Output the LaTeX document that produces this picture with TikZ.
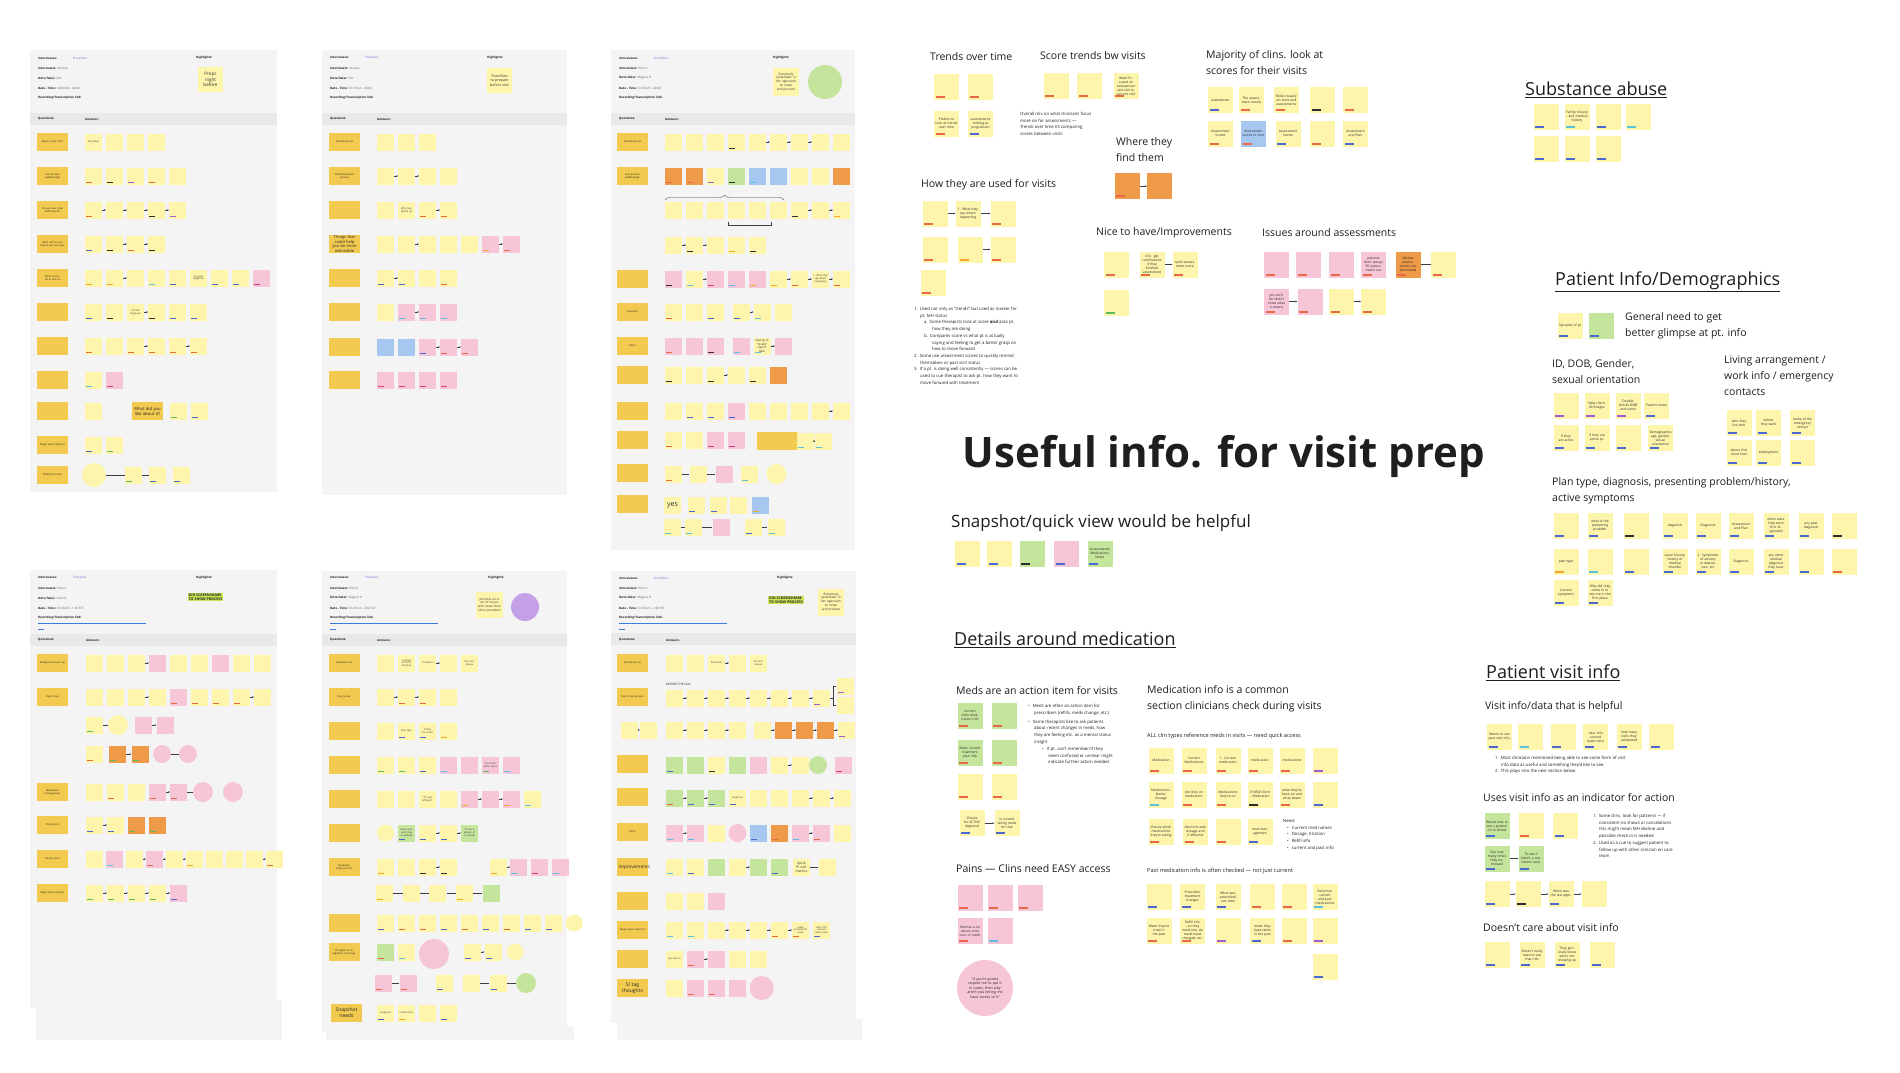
\documentclass[tikz,border=0pt]{standalone}
\usepackage{fontspec}
\setmainfont{Open Sans}
\usetikzlibrary{arrows.meta,decorations.pathreplacing}
\definecolor{panelbg}{HTML}{F4F4F4}
\definecolor{band}{HTML}{E9E9E9}
\definecolor{qg}{HTML}{F2CA50}
\definecolor{ly}{HTML}{FEF5AC}
\definecolor{pk}{HTML}{F7C5D8}
\definecolor{og}{HTML}{EE9A48}
\definecolor{gr}{HTML}{C6E59C}
\definecolor{bl}{HTML}{A6C8F0}
\definecolor{pu}{HTML}{C4A0E6}
\definecolor{lime}{HTML}{C8E655}
\definecolor{rolec}{HTML}{7B5CD6}
\definecolor{linkc}{HTML}{3D7BE0}
\definecolor{tr}{HTML}{E8684A}
\definecolor{tb}{HTML}{4B68D2}
\definecolor{tp}{HTML}{A25BD0}
\definecolor{tk}{HTML}{2E2E2E}
\definecolor{tg}{HTML}{5DB862}
\definecolor{tc}{HTML}{5CBFDF}
\definecolor{to}{HTML}{F4A62A}
\definecolor{tm}{HTML}{D93A7E}
\definecolor{txt}{HTML}{1E1E1E}
\tikzset{
  note/.style={fill=#1, minimum width=17pt, minimum height=17pt, inner sep=0.3pt, text width=15.5pt, align=center, font=\fontsize{2.4}{2.9}\selectfont, text=black!80},
  notetag/.style={path picture={\path[fill=#1] ([shift={(1pt,1.2pt)}]path picture bounding box.south west) rectangle ++(6pt,1.3pt);}},
  bnote/.style={fill=#1, minimum width=25pt, minimum height=26pt, inner sep=0.4pt, text width=22pt, align=center, font=\fontsize{3.3}{4}\selectfont, text=black!85},
  bnotetag/.style={path picture={\path[fill=#1] ([shift={(1.5pt,2pt)}]path picture bounding box.south west) rectangle ++(9pt,2pt);}},
  qbox/.style={fill=qg, minimum width=31pt, minimum height=18pt, text width=28pt, align=center, inner sep=0.3pt, font=\fontsize{2.5}{3}\selectfont, text=black!85},
  circ/.style={circle, fill=#1, inner sep=0pt},
  hdr/.style={anchor=west, inner sep=0pt, font=\fontsize{3}{3.6}\selectfont, text=txt},
  qh/.style={anchor=west, inner sep=0pt, font=\fontsize{3}{3.6}\selectfont\bfseries, text=txt},
  arr/.style={-{Stealth[length=1.6pt,width=1.6pt]}, line width=0.35pt, draw=black!75},
  ln/.style={line width=0.35pt, draw=black!75},
  sect/.style={anchor=west, inner sep=0pt, font=\fontsize{18}{22}\selectfont, text=txt},
  sub/.style={anchor=west, inner sep=0pt, font=\fontsize{10.5}{16}\selectfont, text=txt, align=left},
  small/.style={anchor=north west, inner sep=0pt, align=left, font=\fontsize{4.3}{6.7}\selectfont, text=txt},
  shot/.style={fill=lime, inner sep=0.8pt, align=left, font=\fontsize{3.6}{4.4}\selectfont\bfseries, text=black!85},
}
\newcommand\NRow[6]{\foreach \ncol/\ntag/\ntxt [count=\nidx] in {#6}{\node[#2=\ncol,#2tag=\ntag] (#1-\nidx) at ({#3+(\nidx-1)*(#5)},#4) {\ntxt};}}
\newcommand\Arrs[2]{\foreach \aa/\bb in {#2}{\draw[arr] (#1-\aa) -- (#1-\bb);}}
\newcommand\Lns[2]{\foreach \aa/\bb in {#2}{\draw[ln] (#1-\aa) -- (#1-\bb);}}
\newcommand\N[6]{\node[note=#4,notetag=#5] (#1) at (#2,#3) {#6};}
\newcommand\B[6]{\node[bnote=#4,bnotetag=#5] (#1) at (#2,#3) {#6};}
\newcommand\Q[4]{\node[qbox] (#1) at (#2,#3) {#4};}
\newcommand\Panel[5]{\fill[panelbg] (#1,#2) rectangle (#3,#4); \fill[band] (#1,#5) rectangle (#3,#5+12);}
\newcommand\PHead[6]{%
  \node[hdr] at (#1,#2) {\textbf{Interviewee:}\hspace{16pt}{\color{rolec}#3}};
  \node[hdr] at (#1,#2+10) {\textbf{Interviewer:} {\color{black!60}#4}};
  \node[hdr] at (#1,#2+20) {\textbf{Note-Taker:} {\color{black!60}#5}};
  \node[hdr] at (#1,#2+30) {\textbf{Date - Time:} {\color{black!60}#6}};
  \node[hdr] at (#1,#2+40) {\textbf{Recording/Transcription link:}};}
\begin{document}
\begin{tikzpicture}[x=1pt,y=-1pt]
\useasboundingbox (0,0) rectangle (1900,1072);
\fill[white] (0,0) rectangle (1900,1072);

% ================= PANEL 1 =================
\Panel{30}{50}{277}{492}{113}
\PHead{38}{58}{Prescriber}{Andrea}{Ella}{00/00/00 - 00:00}
\node[qh] at (196,58) {Highlights:};
\node[note=ly, minimum width=25pt, minimum height=25pt, text width=22pt, font=\fontsize{4.6}{5.6}\selectfont] (h1) at (210.5,79.5) {Preps night before};
\node[qh] at (38,119) {Questions:}; \node[qh] at (85,119) {Answers:};
\Q{qa1}{52.5}{142}{What is your role?}
\Q{qa2}{52.5}{176}{Visit process walkthrough}
\Q{qa3}{52.5}{210}{Do you ever prep beforehand?}
\Q{qa4}{52.5}{244}{What info do you look at per visit type}
\Q{qa5}{52.5}{278}{What is useful to look at}
\Q{qa6}{52.5}{312}{}
\Q{qa7}{52.5}{346}{}
\Q{qa8}{52.5}{380}{}
\Q{qa9}{52.5}{411}{}
\Q{qa10}{52.5}{445}{Magic wand options?}
\Q{qa11}{52.5}{475}{Additional notes}
\NRow{pa1}{note}{93.5}{142}{21}{ly/none/Prescriber,ly/none/{},ly/none/{},ly/none/{}}
\NRow{pa2}{note}{93.5}{176}{21}{ly/tr/{},ly/tk/{},ly/tp/{},ly/tr/{},ly/none/{}}
\NRow{pa3}{note}{93.5}{210}{21}{ly/tr/{},ly/none/{},ly/none/{},ly/tk/{},ly/tp/{}} \Arrs{pa3}{1/2,2/3,3/4,4/5}
\NRow{pa4}{note}{93.5}{244}{21}{ly/tb/{},ly/tk/{},ly/tr/{},ly/tk/{}} \Arrs{pa4}{2/3,3/4}
\NRow{pa5}{note}{93.5}{278}{21}{ly/to/{},ly/to/{},ly/none/{},ly/tc/{},ly/tb/{},ly/none/{any past diagnosis},ly/tb/{},ly/tb/{},pk/tm/{}} \Arrs{pa5}{2/3}
\NRow{pa6}{note}{93.5}{312}{21}{ly/tb/{},ly/tk/{},ly/none/{ACTIVE diagnosis},ly/tk/{},ly/tb/{},ly/tb/{}} \Arrs{pa6}{3/4}
\NRow{pa7}{note}{93.5}{346}{21}{ly/tr/{},ly/none/{},ly/tr/{},ly/tr/{},ly/tr/{},ly/tr/{}} \Arrs{pa7}{3/4,5/6}
\NRow{pa8}{note}{93.5}{380}{21}{ly/tc/{},pk/tm/{}}
\N{pa9-1}{93.5}{411}{ly}{none}{}
\node[qbox, text width=30pt, font=\fontsize{4.2}{5}\selectfont] (pa9-2) at (147.5,411) {What did you like about it?};
\N{pa9-3}{178.5}{411}{ly}{tg}{}
\N{pa9-4}{199}{411}{ly}{tb}{}
\NRow{pa10}{note}{93.5}{445}{21}{ly/tb/{},ly/tg/{}}
\node[circ=ly, minimum size=24pt] (pa11-0) at (94,475) {};
\NRow{pa11}{note}{133.5}{475}{24}{ly/tg/{},ly/tb/{},ly/tb/{}}
\Lns{pa11}{0/1,1/2}

% ================= PANEL 2 =================
\Panel{322}{50}{567}{495}{113}
\PHead{330}{58}{Therapist}{Andrea}{Ella}{01/19/23 - 00:00}
\node[qh] at (487,58) {Highlights:};
\node[note=ly, minimum width=25pt, minimum height=25pt, text width=22pt, font=\fontsize{3.6}{4.4}\selectfont] (h2) at (499.5,80.5) {Tries/likes to prepare before visit};
\node[qh] at (330,119) {Questions:}; \node[qh] at (377,119) {Answers:};
\Q{qb1}{344.5}{142}{Intro/warm up}
\Q{qb2}{344.5}{176}{Visit/Preparation process}
\Q{qb3}{344.5}{210}{}
\node[qbox, font=\fontsize{4}{4.8}\selectfont] (qb4) at (344.5,244) {Things that could help you be more actionable};
\Q{qb5}{344.5}{278}{}
\Q{qb6}{344.5}{312}{}
\Q{qb7}{344.5}{347}{}
\Q{qb8}{344.5}{380}{}
\NRow{pb1}{note}{385.5}{142}{21}{ly/none/{},ly/none/{},ly/none/{}}
\NRow{pb2}{note}{385.5}{176}{21}{ly/none/{},ly/none/{},ly/none/{},ly/none/{}} \Arrs{pb2}{1/2,2/3}
\NRow{pb3}{note}{385.5}{210}{21}{ly/none/{},ly/none/{Why they signed up},ly/tr/{},ly/tr/{}} \Arrs{pb3}{3/4}
\NRow{pb4}{note}{385.5}{244}{21}{ly/none/{},ly/none/{},ly/none/{},ly/none/{},ly/none/{},pk/to/{},pk/tr/{}} \Arrs{pb4}{2/3,6/7}
\NRow{pb5}{note}{385.5}{278}{21}{ly/tb/{},ly/tb/{},ly/none/{},ly/tr/{}} \Arrs{pb5}{1/2}
\NRow{pb6}{note}{385.5}{312}{21}{ly/none/{},pk/tc/{},pk/tc/{},pk/tc/{}} \Arrs{pb6}{2/3}
\NRow{pb7}{note}{385.5}{347}{21}{bl/none/{},bl/none/{},pk/tb/{},pk/tr/{},pk/tr/{}} \Arrs{pb7}{3/4,4/5}
\NRow{pb8}{note}{385.5}{380}{21}{pk/tm/{},pk/tm/{},pk/tm/{},pk/tm/{}}

% ================= PANEL 3 =================
\Panel{611}{50}{855}{550}{113}
\PHead{619}{58}{Prescriber}{Eliza V}{Wagner H}{01/20/23 - 00:00}
\node[qh] at (773,58) {Highlights:};
\node[note=ly, minimum width=26pt, minimum height=28pt, text width=23pt, font=\fontsize{3.2}{3.9}\selectfont] (h3) at (786,82) {Extremely systematic in her approach to notes and process};
\node[circ=gr, minimum size=34pt] (h3c) at (825,82) {};
\node[qh] at (619,119) {Questions:}; \node[qh] at (665,119) {Answers:};
\Q{qc1}{632.5}{142}{Intro/warm up}
\Q{qc2}{632.5}{176}{Visit process walkthrough}
\Q{qc3}{632.5}{279}{}
\Q{qc4}{632.5}{312}{Snapshot}
\Q{qc5}{632.5}{346}{Pains}
\Q{qc6}{632.5}{375}{}
\Q{qc7}{632.5}{411}{}
\Q{qc8}{632.5}{440}{}
\Q{qc9}{632.5}{473}{}
\Q{qc10}{632.5}{504}{}
\NRow{pc1}{note}{673.5}{142}{21}{ly/none/{},ly/none/{},ly/none/{},ly/tk/{},ly/none/{},ly/none/{},ly/none/{},ly/none/{},ly/none/{}} \Arrs{pc1}{5/6,6/7,7/8}
\NRow{pc2}{note}{673.5}{176}{21}{og/tr/{},og/tr/{},ly/tp/{},gr/tk/{},bl/tc/{},bl/none/{},ly/none/{},ly/none/{},og/none/{}}
\NRow{pc3}{note}{673.5}{210}{21}{ly/none/{},ly/none/{},ly/none/{},ly/none/{},ly/none/{},ly/none/{},ly/tk/{},ly/none/{},ly/to/{}} \Arrs{pc3}{7/8,8/9}
\draw[ln, decorate, decoration={brace, amplitude=5pt}] (665,200) -- (784,200);
\draw[ln] (728,222) -- (728,225) -- (771,225) -- (771,222);
\NRow{pc4}{note}{673.5}{245}{21}{ly/none/{},ly/tk/{},ly/none/{},ly/to/{},ly/tk/{}} \Arrs{pc4}{1/2,2/3}
\NRow{pc5}{note}{673.5}{279}{21}{pk/tk/{},ly/tc/{},pk/tm/{},pk/tc/{},pk/to/{},ly/to/{},ly/tr/{},ly/none/{1. What they say what's happening},ly/tr/{}} \Arrs{pc5}{2/3,6/7,7/8,8/9}
\N{pc6-1}{673.5}{312}{ly}{tr}{} \N{pc6-2}{694.5}{312}{ly}{none}{} \N{pc6-3}{715}{312}{ly}{tb}{}
\N{pc6-4}{741}{312}{ly}{tb}{} \N{pc6-5}{762}{312}{ly}{tc}{} \N{pc6-6}{783.5}{312}{ly}{none}{}
\Arrs{pc6}{4/5}
\N{pc7-1}{673.5}{346}{pk}{tr}{} \N{pc7-2}{694.5}{346}{pk}{none}{} \N{pc7-3}{715}{346}{pk}{tk}{}
\N{pc7-4}{741}{346}{pk}{tc}{}
\node[note=ly, notetag=tc, font=\fontsize{3}{3.6}\selectfont] (pc7-5) at (762,346) {Having to “locate” report data};
\N{pc7-6}{783.5}{346}{pk}{none}{}
\Arrs{pc7}{5/6}
\NRow{pc8}{note}{673.5}{375}{21}{ly/tk/{},ly/none/{},ly/tk/{},ly/none/{},ly/tk/{},og/none/{}} \Arrs{pc8}{3/4}
\NRow{pc9}{note}{673.5}{411}{21}{ly/none/{},ly/tb/{},ly/tb/{},pk/tb/{},ly/none/{},ly/none/{},ly/none/{},ly/none/{},ly/none/{}} \Arrs{pc9}{8/9}
\NRow{pc10}{note}{673.5}{440}{21}{ly/tr/{},ly/none/{},pk/tm/{},pk/tm/{}}
\node[qbox, minimum width=41pt, text width=38pt] (pc10-5) at (777.5,441) {};
\N{pc10-6}{805}{441}{ly}{tc}{} \N{pc10-7}{823.5}{441}{ly}{tc}{}
\Arrs{pc10}{6/7}
\N{pc11-1}{673.5}{474}{ly}{tr}{} \N{pc11-2}{698}{474}{ly}{none}{} \N{pc11-3}{724}{474}{pk}{none}{}
\N{pc11-4}{749.5}{474}{ly}{tc}{}
\node[circ=ly, minimum size=20pt] (pc11-5) at (776.5,474) {};
\Lns{pc11}{1/2,2/3}
\node[note=ly, font=\fontsize{7}{8}\selectfont] (pc12-1) at (672.5,505) {yes};
\N{pc12-2}{696.5}{505}{ly}{tb}{} \N{pc12-3}{718}{505}{ly}{tb}{} \N{pc12-4}{738.5}{505}{ly}{none}{}
\N{pc12-5}{760}{505}{bl}{to}{}
\N{pc13-1}{672.5}{527}{ly}{tc}{} \N{pc13-2}{693.5}{527}{ly}{tc}{} \N{pc13-3}{721}{527}{pk}{none}{}
\N{pc13-4}{753}{527}{ly}{tb}{} \N{pc13-5}{776}{527}{ly}{tc}{}
\Lns{pc13}{1/2,2/3,4/5}

% ================= PANEL 4 =================
\Panel{30}{570}{277}{1008}{634}
\fill[panelbg] (36,1000) rectangle (282,1040);
\PHead{38}{578}{Therapist}{Eliza V}{Aldo M}{01/20/23 - 1:30 EST}
\fill[linkc] (38,622.6) rectangle (146,623.4); \fill[linkc] (38,628.6) rectangle (44,629.4);
\node[qh] at (196,578) {Highlights:};
\node[shot] (s4) at (205.5,597) {DID SCREENSHARE\\TO SHOW PROCESS};
\node[qh] at (38,640) {Questions:}; \node[qh] at (86,640) {Answers:};
\Q{qd1}{52.5}{663}{Background/warm up}
\Q{qd2}{52.5}{697}{Day to day}
\Q{qd3}{52.5}{792}{Medication management}
\Q{qd4}{52.5}{825}{Prescribers}
\Q{qd5}{52.5}{859}{Taking notes}
\Q{qd6}{52.5}{893}{Magic wand options}
\NRow{pd1}{note}{94.5}{663}{21}{ly/none/{},ly/none/{},ly/none/{},pk/none/{},ly/none/{},ly/none/{},pk/none/{},ly/none/{},ly/none/{}} \Arrs{pd1}{3/4}
\NRow{pd2}{note}{94.5}{697}{21}{ly/none/{},ly/none/{},ly/none/{},ly/none/{},pk/tr/{},ly/tr/{},ly/tr/{},ly/tr/{},ly/none/{}} \Arrs{pd2}{3/4,8/9}
\N{pd3-1}{94.5}{725}{ly}{tg}{}
\node[circ=ly, minimum size=20pt] (pd3-2) at (118,725) {};
\N{pd3-3}{143}{725}{pk}{none}{} \N{pd3-4}{165}{725}{pk}{none}{}
\Lns{pd3}{1/2} \Arrs{pd3}{3/4}
\N{pd4-1}{94.5}{754}{ly}{tr}{} \N{pd4-2}{117}{754}{og}{tg}{} \N{pd4-3}{140}{754}{og}{tg}{}
\node[circ=pk, minimum size=18pt] (pd4-4) at (162,754) {};
\node[circ=pk, minimum size=18pt] (pd4-5) at (188,754) {};
\Arrs{pd4}{2/3} \Lns{pd4}{4/5}
\NRow{pd5}{note}{94.5}{792}{21}{ly/none/{},ly/tr/{},ly/none/{},pk/tr/{},pk/tr/{}}
\node[circ=pk, minimum size=20pt] (pd5-6) at (203,792) {};
\node[circ=pk, minimum size=20pt] (pd5-7) at (233,792) {};
\Arrs{pd5}{4/5} \Lns{pd5}{5/6}
\NRow{pd6}{note}{94.5}{825}{21}{ly/tb/{},ly/tb/{},og/tg/{},og/tg/{}} \Arrs{pd6}{1/2}
\NRow{pd7}{note}{94.5}{859}{20}{ly/none/{},pk/tc/{},ly/none/{},pk/tr/{},ly/none/{},ly/to/{},ly/none/{},ly/none/{},ly/none/{},ly/tr/{}} \Arrs{pd7}{3/4,4/5,5/6,9/10}
\NRow{pd8}{note}{94.5}{893}{21}{ly/tg/{},ly/tg/{},ly/tg/{},ly/tg/{},pk/tb/{}} \Arrs{pd8}{1/2,2/3,3/4,4/5}

% ================= PANEL 5 =================
\Panel{322}{571}{567}{1032}{634}
\fill[panelbg] (326,1026) rectangle (574,1040);
\PHead{330}{578}{Therapist}{Eliza V}{Wagner H}{01/26/23 - 2:00 EST}
\fill[linkc] (330,622.6) rectangle (438,623.4); \fill[linkc] (330,628.6) rectangle (336,629.4);
\node[qh] at (488,578) {Highlights:};
\node[note=ly, minimum width=27pt, minimum height=26pt, text width=24pt, font=\fontsize{3.1}{3.8}\selectfont] (h5) at (489.5,605) {pointed out a lot of issues with notes from other providers};
\node[circ=pu, minimum size=28pt] (h5c) at (525,607) {};
\node[qh] at (330,640) {Questions:}; \node[qh] at (377,640) {Answers:};
\Q{qe1}{344}{663}{Intro/warmup}
\Q{qe2}{344}{697}{Day to day}
\Q{qe3}{344}{731}{}
\Q{qe4}{344}{765}{}
\Q{qe5}{344}{799}{}
\Q{qe6}{344}{833}{}
\Q{qe7}{344}{867}{Reviewing notes process}
\Q{qe8}{344}{923}{}
\Q{qe9}{344}{952}{Thoughts on SI tag/other alert tags}
\node[qbox, font=\fontsize{5}{6}\selectfont] (qe10) at (346.5,1013) {Snapshot needs};
\NRow{pe1}{note}{385.5}{663}{21}{ly/none/{},ly/none/{Located at North Carolina},ly/none/{Therapist},ly/none/{},ly/none/{W-2 employee}} \Arrs{pe1}{3/4}
\NRow{pe2}{note}{385.5}{697}{21}{ly/none/{},ly/tr/{},ly/tr/{},ly/none/{}} \Arrs{pe2}{1/2,2/3}
\NRow{pe3}{note}{385.5}{731}{21}{ly/none/{},ly/tb/{plan type},ly/tb/{If they are active},ly/to/{}}
\NRow{pe4}{note}{385.5}{765}{21}{ly/tg/{},ly/tg/{},ly/tb/{},pk/tc/{},pk/none/{},pk/tg/{Too much blank space},pk/tc/{}}
\NRow{pe5}{note}{385.5}{799}{21}{ly/none/{},ly/none/{},ly/none/{“It's just different”},ly/none/{},pk/to/{},pk/none/{},pk/to/{},ly/tc/{}} \Arrs{pe5}{5/6,6/7}
\node[circ=ly, minimum size=17pt] (pe6-0) at (385.5,833) {};
\NRow{pe6}{note}{406.5}{833}{21}{gr/tb/{How many visits they completed},ly/tb/{},ly/tb/{},gr/none/{To see a pattern of no shows}} \Arrs{pe6}{2/3,3/4}
\NRow{pe7}{note}{385.5}{867}{21}{ly/to/{},ly/none/{},ly/tk/{},ly/tk/{}} \Arrs{pe7}{3/4}
\NRow{pe7x}{note}{498}{867}{20.7}{ly/to/{},pk/tc/{},pk/tm/{},pk/tc/{}} \Arrs{pe7x}{1/2}
\NRow{pe8}{note}{384.7}{893}{26.6}{ly/to/{},ly/none/{},ly/none/{},ly/to/{},gr/none/{}} \Lns{pe8}{1/2,2/3,3/4,4/5}
\NRow{pe9}{note}{385.5}{923}{21}{ly/tb/{},ly/tr/{},ly/tr/{},ly/tb/{},ly/tr/{},ly/tb/{},ly/tr/{},ly/tb/{},ly/tb/{}}
\node[circ=ly, minimum size=17pt] (pe9-10) at (574,923) {};
\N{pe10-1}{385.5}{952}{gr}{tr}{} \N{pe10-2}{406.5}{952}{ly}{tc}{}
\node[circ=pk, minimum size=30pt] (pe10-3) at (434,954) {};
\N{pe10-4}{472}{952}{ly}{tb}{} \N{pe10-5}{493}{952}{ly}{tb}{}
\node[circ=ly, minimum size=17pt] (pe10-6) at (515,952) {};
\Arrs{pe10}{4/5}
\N{pe11-1}{383}{983}{pk}{tr}{} \N{pe11-2}{408}{983}{pk}{tr}{} \N{pe11-3}{444}{983}{ly}{tb}{}
\N{pe11-4}{471}{983}{ly}{none}{} \N{pe11-5}{498}{983}{ly}{tb}{}
\node[circ=gr, minimum size=20pt] (pe11-6) at (526,983) {};
\Lns{pe11}{1/2,4/5,5/6}
\NRow{pe12}{note}{385.5}{1013}{21}{ly/tb/{Diagnosis},ly/to/{medications},ly/none/{},ly/tb/{}}

% ================= PANEL 6 =================
\Panel{611}{571}{856}{1023}{633}
\fill[panelbg] (617,1019) rectangle (862,1040);
\PHead{619}{578}{Prescriber}{Eliza V}{Wagner H}{01/26/23 - 2:30 EST}
\fill[linkc] (619,622.6) rectangle (727,623.4); \fill[linkc] (619,628.6) rectangle (625,629.4);
\node[qh] at (777,578) {Highlights:};
\node[shot] (s6) at (786,600) {DID SCREENSHARE\\TO SHOW PROCESS};
\node[note=ly, minimum width=26pt, minimum height=27pt, text width=23pt, font=\fontsize{3.2}{3.9}\selectfont] (h6) at (831,602) {Extremely systematic in her approach to notes and process};
\node[qh] at (619,640) {Questions:}; \node[qh] at (666,640) {Answers:};
\node[hdr] at (666,684) {BEFORE THE CALL};
\Q{qf1}{632.5}{663}{Intro/warm up}
\Q{qf2}{632.5}{697}{Day to day process}
\Q{qf4}{632.5}{764}{}
\Q{qf5}{632.5}{797}{}
\Q{qf6}{632.5}{832}{Pains}
\node[qbox, font=\fontsize{4.6}{5.5}\selectfont] (qf7) at (632.5,867) {Improvements};
\Q{qf8}{632.5}{901}{}
\Q{qf9}{632.5}{930}{Magic wand options?}
\Q{qf10}{632.5}{959}{}
\node[qbox, font=\fontsize{5}{6}\selectfont] (qf11) at (632.5,988) {SI tag thoughts};
\NRow{pf1}{note}{674.5}{663}{21}{ly/none/{},ly/none/{},ly/none/{Prescriber},ly/none/{},ly/none/{W-2 employee}} \Arrs{pf1}{3/4}
\NRow{pf2}{note}{674.5}{698}{21}{ly/none/{},ly/none/{},ly/none/{},ly/none/{},ly/none/{},ly/none/{},ly/none/{},ly/tp/{}} \Arrs{pf2}{1/2,2/3,3/4,4/5,5/6,6/7,7/8}
\N{pf2a}{845}{686}{ly}{tp}{} \N{pf2b}{845}{705}{ly}{none}{}
\draw[ln] (pf2-8.east) -- (833.5,698);
\draw[ln] (pf2a.west) -- ++(-3,0) |- (pf2b.west);
\N{pf3a}{629}{730}{ly}{none}{} \N{pf3b}{648.5}{730}{ly}{none}{}
\draw[arr] (pf3a) -- (pf3b);
\NRow{pf3}{note}{674.5}{730}{21}{ly/none/{},ly/none/{},ly/none/{},ly/none/{}} \Arrs{pf3}{1/2,2/3,3/4}
\NRow{pf3x}{note}{762.5}{730}{21}{ly/none/{},og/none/{},og/none/{},og/none/{},ly/tp/{}} \Arrs{pf3x}{1/2,2/3,3/4,4/5}
\NRow{pf4}{note}{674.5}{765}{21}{gr/tb/{},gr/none/{},ly/tk/{},gr/none/{},pk/none/{},ly/none/{},ly/none/{}} \Arrs{pf4}{6/7}
\node[circ=gr, minimum size=18pt] (pf4-8) at (818,765) {};
\N{pf4-9}{843}{765}{pk}{tm}{}
\NRow{pf5}{note}{674.5}{798}{21}{gr/tr/{},gr/tb/{},gr/tb/{},ly/tb/{Diagnosis},ly/none/{},ly/none/{},ly/none/{},ly/none/{},ly/none/{}} \Arrs{pf5}{1/2,2/3,7/8,8/9}
\NRow{pf6}{note}{674.5}{833}{21}{pk/tc/{},pk/tc/{},ly/none/{}} \Arrs{pf6}{1/2}
\node[circ=pk, minimum size=18pt] (pf6-4) at (737.5,833) {};
\NRow{pf6x}{note}{758.5}{833}{21}{bl/tb/{},og/tr/{},pk/tc/{},pk/tr/{},ly/none/{}} \Arrs{pf6x}{3/4}
\NRow{pf7}{note}{674.5}{867}{21}{ly/tc/{},ly/tb/{},gr/none/{},ly/none/{},gr/none/{},gr/tb/{}} \Arrs{pf7}{4/5}
\node[note=ly, font=\fontsize{3.4}{4.1}\selectfont] (pf7-7) at (801.5,867) {quick PI visit metrics};
\N{pf7-8}{827}{867}{ly}{none}{}
\Lns{pf7}{7/8}
\NRow{pf8}{note}{674.5}{901}{21}{ly/none/{},ly/none/{},pk/none/{}}
\NRow{pf9}{note}{674.5}{930}{21}{ly/tc/{},ly/tc/{},ly/none/{},ly/none/{},ly/none/{},ly/tr/{},ly/tr/{quick assessment score},ly/tb/{clear info around latest visits}} \Arrs{pf9}{3/4,4/5,5/6,6/7}
\NRow{pf10}{note}{674.5}{959}{21}{ly/none/{yes and no},pk/tr/{},pk/none/{},ly/none/{},ly/none/{}} \Arrs{pf10}{2/3}
\NRow{pf11}{note}{674.5}{988}{21}{ly/none/{},pk/tr/{},pk/tr/{},pk/none/{}}
\node[circ=pk, minimum size=24pt] (pf11-5) at (761.7,988) {};

% ================= RIGHT: ASSESSMENTS =================
\node[sub] (t1) at (930,57) {Trends over time};
\B{tr1}{946.5}{86.5}{ly}{tr}{} \B{tr2}{980.5}{86.5}{ly}{tr}{}
\B{tr3}{946.5}{123.5}{ly}{tr}{Prefers to look at trends over time} \B{tr4}{980.5}{123.5}{ly}{tb}{assessments looking at progression}
\node[sub] (t2) at (1040,56) {Score trends bw visits};
\B{st1}{1056}{86}{ly}{tr}{} \B{st2}{1089.5}{86}{ly}{tr}{} \B{st3}{1126}{86}{ly}{tr}{Want focused on comparison last visit to current visit}
\node[small] (sttxt) at (1020,112) {Overall mix on what clinicians focus\\more on for assessments —\\Trends over time VS comparing\\scores between visits};
\node[sub, anchor=north west] (t3) at (1206,50) {Majority of clins. look at\\scores for their visits};
\B{mj1}{1220.5}{100}{ly}{tb}{assessment} \B{mj2}{1251.5}{100}{ly}{tr}{The assessment results}
\B{mj3}{1286.5}{100}{ly}{tr}{Relies heavily on tools and assessments} \B{mj4}{1322.5}{100}{ly}{tk}{} \B{mj5}{1355.5}{100}{ly}{tr}{}
\B{mj6}{1220.5}{133.5}{ly}{tr}{Assessment Scores} \B{mj7}{1253.5}{133.5}{bl}{tr}{Assessment scores in note}
\B{mj8}{1288}{133.5}{ly}{tb}{Assessment Scores} \B{mj9}{1322.5}{133.5}{ly}{tr}{} \B{mj10}{1355.5}{133.5}{ly}{tb}{Assessment and Plan}
\node[sub, anchor=north west] (t4) at (1116,137) {Where they\\find them};
\B{wh1}{1127}{186}{og}{tr}{} \B{wh2}{1159.5}{186}{og}{none}{}
\draw[arr] (wh1) -- (wh2);
\node[sub] (t5) at (921,184.5) {How they are used for visits};
\B{hw1}{935}{213.5}{ly}{tr}{} \B{hw2}{968}{213.5}{ly}{none}{1. What they say what's happening} \B{hw3}{1003}{213.5}{ly}{tr}{}
\B{hw4}{935}{249.5}{ly}{tr}{} \B{hw5}{970.5}{249.5}{ly}{to}{} \B{hw6}{1003}{249.5}{ly}{tr}{}
\B{hw7}{933}{282.5}{ly}{tr}{}
\draw[arr] (hw1) -- (hw2); \draw[arr] (hw2) -- (hw3); \draw[arr] (hw5) -- (hw6);
\node[small] (hwlist) at (914,307) {1.\hspace{2pt}Used not only as “trends” but used as marker for\\\hspace*{6pt}pt. MH status\\\hspace*{10pt}a.\hspace{2pt}Some therapists look at score \textbf{and} asks pt.\\\hspace*{18pt}how they are doing\\\hspace*{10pt}b.\hspace{2pt}Compares score vs what pt is actually\\\hspace*{18pt}saying and feeling to get a better grasp on\\\hspace*{18pt}how to move forward\\2.\hspace{2pt}Some use assessment scores to quickly remind\\\hspace*{6pt}themselves or past visit status\\3.\hspace{2pt}If a pt. is doing well consistently — scores can be\\\hspace*{6pt}used to cue therapist to ask pt. how they want to\\\hspace*{6pt}move forward with treatment};
\node[sub] (t6) at (1096,232.5) {Nice to have/Improvements};
\B{nc1}{1116.5}{264.5}{ly}{tr}{} \B{nc2}{1152}{264.5}{ly}{tr}{Clin. get notifications if they finished assessment} \B{nc3}{1185}{264.5}{ly}{tr}{quick assessment score}
\draw[arr] (nc2) -- (nc3);
\B{nc4}{1116.5}{303}{ly}{tg}{}
\node[sub] (t7) at (1262,232.5) {Issues around assessments};
\B{is1}{1276.5}{264.5}{pk}{tr}{} \B{is2}{1308.5}{264.5}{pk}{tr}{} \B{is3}{1341.5}{264.5}{pk}{tr}{}
\B{is4}{1373.5}{264.5}{pk}{tr}{patients don't always fill assessments out} \B{is5}{1408}{264.5}{og}{tr}{Wishes assessments are automated} \B{is6}{1443.5}{264.5}{ly}{tr}{}
\draw[arr] (is6) -- (is5);
\B{is7}{1276.5}{301.5}{pk}{tr}{pts don't do /didn't know what it means} \B{is8}{1310}{301.5}{pk}{tr}{}
\B{is9}{1341.5}{301.5}{ly}{tr}{} \B{is10}{1373.5}{301.5}{ly}{tr}{}
\draw[arr] (is7) -- (is8); \draw[arr] (is9) -- (is10);

% ================= TITLE / SNAPSHOT =================
\node[font=\fontsize{42}{50}\selectfont\bfseries, text=txt, inner sep=0pt] (title) at (1224,456) {Useful info. for visit prep};
\node[anchor=west, inner sep=0pt, font=\fontsize{17}{20}\selectfont, text=txt] (snap) at (951,523) {Snapshot/quick view would be helpful};
\B{sn1}{967.5}{553.5}{ly}{tb}{} \B{sn2}{999.5}{553.5}{ly}{tb}{} \B{sn3}{1032}{553.5}{gr}{tk}{}
\B{sn4}{1066.5}{553.5}{pk}{tb}{} \B{sn5}{1100}{553.5}{gr}{tb}{Assessments, Medications, Notes}

% ================= SUBSTANCE ABUSE =================
\node[sect] (sa) at (1525,90) {\underline{Substance abuse}};
\B{sa1}{1546}{116.5}{ly}{tb}{} \B{sa2}{1577}{116.5}{ly}{tc}{Family history - and medical history} \B{sa3}{1608}{116.5}{ly}{tb}{} \B{sa4}{1638}{116.5}{ly}{tc}{}
\B{sa5}{1546}{149}{ly}{tb}{} \B{sa6}{1577}{149}{ly}{tb}{} \B{sa7}{1608}{149}{ly}{tb}{}

% ================= PATIENT INFO =================
\node[sect] (pi) at (1555,282) {\underline{Patient Info/Demographics}};
\B{pi1}{1570}{326}{ly}{tb}{Synopsis of pt} \B{pi2}{1601}{326}{gr}{tb}{}
\node[sub, anchor=north west] (gn) at (1625,312) {General need to get\\better glimpse at pt. info};
\node[sub, anchor=north west] (idt) at (1552,359) {ID, DOB, Gender,\\sexual orientation};
\node[sub, anchor=north west] (lvt) at (1724,356) {Living arrangement /\\work info / emergency\\contacts};
\B{id1}{1566}{405.5}{ly}{tp}{} \B{id2}{1597}{405.5}{ly}{tp}{New client: ID/images} \B{id3}{1628}{405.5}{ly}{tp}{Double checks DOB and name} \B{id4}{1656.5}{405.5}{ly}{tb}{Patient name}
\B{id5}{1566}{438}{ly}{tb}{if they are active} \B{id6}{1597}{438}{ly}{tb}{if they are active pt.} \B{id7}{1628}{438}{ly}{tb}{} \B{id8}{1660.5}{438}{ly}{tb}{Demographics: age, gender, sexual orientation}
\B{lv1}{1739}{423}{ly}{tb}{who they live with} \B{lv2}{1768.5}{423}{ly}{tb}{where they work} \B{lv3}{1802.5}{423}{ly}{tb}{name of the emergency contact}
\B{lv4}{1739}{452.5}{ly}{tb}{where this client lives} \B{lv5}{1768.5}{452.5}{ly}{tb}{employment} \B{lv6}{1802.5}{452.5}{ly}{tb}{}
\node[sub, anchor=north west] (plt) at (1552,477) {Plan type, diagnosis, presenting problem/history,\\active symptoms};
\B{pl1}{1566}{526}{ly}{tb}{} \B{pl2}{1600}{526}{ly}{tb}{what is the presenting problem} \B{pl3}{1636}{526}{ly}{tk}{}
\B{pl4}{1675}{526}{ly}{tb}{diagnosis} \B{pl5}{1708}{526}{ly}{tb}{Diagnosis} \B{pl6}{1741}{526}{ly}{tb}{Assessment and Plan}
\B{pl7}{1776}{526}{ly}{tb}{when were they were first diagnosed} \B{pl8}{1811}{526}{ly}{tb}{any past diagnosis} \B{pl9}{1844}{526}{ly}{tk}{}
\B{pl10}{1566}{561.5}{ly}{to}{plan type} \B{pl11}{1600}{561.5}{ly}{tc}{} \B{pl12}{1636}{561.5}{ly}{tb}{}
\B{pl13}{1675}{561.5}{ly}{tb}{social history, history of medical disorder} \B{pl14}{1708}{561.5}{ly}{tb}{2. Symptoms of anxiety or depression, etc} \B{pl15}{1741}{561.5}{ly}{tb}{Diagnosis}
\B{pl16}{1776}{561.5}{ly}{tb}{any other medical diagnosis they have} \B{pl17}{1811}{561.5}{ly}{tb}{} \B{pl18}{1844}{561.5}{ly}{tr}{}
\B{pl19}{1566}{593}{ly}{tb}{Current symptoms} \B{pl20}{1600}{593}{ly}{tb}{Why did they come in to see me in the first place}

% ================= MEDICATION =================
\node[sect] (md) at (954,640) {\underline{Details around medication}};
\node[sub] (mt1) at (956,691) {Meds are an action item for visits};
\B{ma1}{970}{715.5}{gr}{tr}{Current visits medication info} \B{ma2}{1004}{715.5}{gr}{tr}{}
\B{ma3}{970}{753}{gr}{tr}{Meds current treatment plan info} \B{ma4}{1004}{753}{gr}{tr}{}
\B{ma5}{970}{787}{ly}{tr}{} \B{ma6}{1004}{787}{ly}{tr}{}
\B{ma7}{972}{823}{ly}{tb}{Checks for ACTIVE diagnosis} \B{ma8}{1007}{823}{ly}{tb}{is current taking meds for that}
\draw[arr] (ma7) -- (ma8);
\node[small, font=\fontsize{4.3}{6.8}\selectfont] (mb) at (1028,704) {•\hspace{3pt}Meds are often an action item for\\\hspace*{6pt}prescribers (refills, meds change, etc.)\\[2pt]•\hspace{3pt}Some therapists like to ask patients\\\hspace*{6pt}about recent changes in meds, how\\\hspace*{6pt}they are feeling etc. as a mental status\\\hspace*{6pt}insight\\\hspace*{14pt}•\hspace{3pt}If pt. can't remember/if they\\\hspace*{20pt}seem confused or unclear might\\\hspace*{20pt}indicate further action needed};
\node[sub, anchor=north west] (mt2) at (1147,685) {Medication info is a common\\section clinicians check during visits};
\node[anchor=west, inner sep=0pt, font=\fontsize{5.6}{7}\selectfont, text=txt] (mt3) at (1147,736) {ALL clin types reference meds in visits — need quick access};
\B{mc1}{1161}{760.5}{ly}{tr}{Medication} \B{mc2}{1194}{760.5}{ly}{tr}{Current Medications} \B{mc3}{1228}{760.5}{ly}{tr}{1. Current medication}
\B{mc4}{1260}{760.5}{ly}{tr}{medication} \B{mc5}{1292}{760.5}{ly}{tr}{medications} \B{mc6}{1325}{760.5}{ly}{tp}{}
\B{mc7}{1161}{794.5}{ly}{tc}{Medications: Name, Dosage} \B{mc8}{1194}{794.5}{ly}{tr}{Are they on medication} \B{mc9}{1228}{794.5}{ly}{tr}{Medications they're on}
\B{mc10}{1260}{794.5}{ly}{tk}{If NEW client - Medication} \B{mc11}{1292}{794.5}{ly}{tr}{what they've been on and what doses} \B{mc12}{1325}{794.5}{ly}{tb}{}
\B{mc13}{1161}{831.5}{ly}{tr}{Checks which medications they're taking} \B{mc14}{1195.5}{831.5}{ly}{tr}{Med info with dosage and if effective}
\B{mc15}{1228}{831.5}{ly}{tr}{} \B{mc16}{1260}{831.5}{ly}{tb}{med management}
\node[small] (need) at (1283,819) {Need:\\\hspace*{4pt}•\hspace{3pt}Current med names\\\hspace*{4pt}•\hspace{3pt}Dosage, titration\\\hspace*{4pt}•\hspace{3pt}Refill info\\\hspace*{4pt}•\hspace{3pt}current and past info};
\node[anchor=west, inner sep=0pt, font=\fontsize{5.6}{7}\selectfont, text=txt] (mt4) at (1147,871.5) {Past medication info is often checked — not just current};
\B{mp1}{1159}{897}{ly}{tb}{} \B{mp2}{1192.5}{897}{ly}{tb}{Prescriber treatment changes} \B{mp3}{1228}{897}{ly}{tb}{What was prescribed last time}
\B{mp4}{1262.5}{897}{ly}{tr}{} \B{mp5}{1294}{897}{ly}{tr}{} \B{mp6}{1325}{897}{ly}{tc}{Early/non current and past medications}
\B{mp7}{1159}{931}{ly}{tr}{Meds they've tried in the past} \B{mp8}{1192.5}{931}{ly}{tr}{Refill info - so they need one, do meds need changed, etc.} \B{mp9}{1228}{931}{ly}{tp}{}
\B{mp10}{1262.5}{931}{ly}{tb}{meds they have taken in the past} \B{mp11}{1294}{931}{ly}{tr}{} \B{mp12}{1325}{931}{ly}{tp}{}
\B{mp13}{1325}{967}{ly}{tb}{}
\node[sub] (mt5) at (956,869) {Pains — Clins need EASY access};
\B{mq1}{970}{898}{pk}{tr}{} \B{mq2}{1000}{898}{pk}{tr}{} \B{mq3}{1030}{898}{pk}{tr}{}
\B{mq4}{970}{931}{pk}{tr}{Worries a lot about cross over of meds} \B{mq5}{1000}{931}{pk}{tc}{}
\node[circ=pk, minimum size=56pt, text width=40pt, align=center, font=\fontsize{3.6}{4.4}\selectfont, text=black!85] (mq6) at (985,988) {“If you're gonna require me to put it in notes, then why aren't you letting me have access to it”};

% ================= PATIENT VISIT INFO =================
\node[sect] (pv) at (1486,673) {\underline{Patient visit info}};
\node[sub] (vt1) at (1485,707) {Visit info/data that is helpful};
\B{vs1}{1499.5}{737}{ly}{tb}{Wants to see past visit info.} \B{vs2}{1530.5}{737}{ly}{tc}{} \B{vs3}{1563}{737}{ly}{tb}{}
\B{vs4}{1595.5}{737}{ly}{tb}{clear info around latest visits} \B{vs5}{1629}{737}{ly}{tb}{how many visits they completed} \B{vs6}{1661.5}{737}{ly}{tb}{}
\node[small, font=\fontsize{4.3}{6.5}\selectfont] (vl1) at (1495,756) {1.\hspace{2pt}Most clinicians mentioned being able to see some form of visit\\\hspace*{6pt}info data as useful and something they'd like to see.\\2.\hspace{2pt}This plays into the next section below};
\node[sub] (vt2) at (1483,798) {Uses visit info as an indicator for action};
\B{va1}{1497}{826}{gr}{tb}{Would look to see a pattern of no shows} \B{va2}{1531}{826}{ly}{tr}{} \B{va3}{1565.5}{826}{ly}{tb}{}
\B{va4}{1497}{858.5}{gr}{tb}{See how many times they no-showed} \B{va5}{1531}{858.5}{gr}{tb}{To see if there's a consistent issue}
\draw[arr] (va4) -- (va5);
\B{va6}{1497}{894}{ly}{tb}{} \B{va7}{1528}{894}{ly}{tk}{} \B{va8}{1561}{894}{ly}{tb}{When was the last appt.} \B{va9}{1594}{894}{ly}{none}{}
\draw[arr] (va6) -- (va7); \draw[arr] (va7) -- (va8); \draw[arr] (va8) -- (va9);
\node[small] (vl2) at (1593,814) {1.\hspace{2pt}Some clins. look for patterns — if\\\hspace*{6pt}consistent no shows or cancelations\\\hspace*{6pt}this might mean MH decline and\\\hspace*{6pt}possible check in is needed\\2.\hspace{2pt}Used as a cue to suggest patient to\\\hspace*{6pt}follow up with other clinician on care\\\hspace*{6pt}team};
\node[sub] (vt3) at (1483,928) {Doesn't care about visit info};
\B{vd1}{1497}{955}{ly}{tb}{} \B{vd2}{1532}{955}{ly}{tb}{Doesn't really need to see that info}
\B{vd3}{1567}{955}{ly}{tb}{They generally know who's not showing up} \B{vd4}{1602.5}{955}{ly}{tb}{}
\end{tikzpicture}
\end{document}
